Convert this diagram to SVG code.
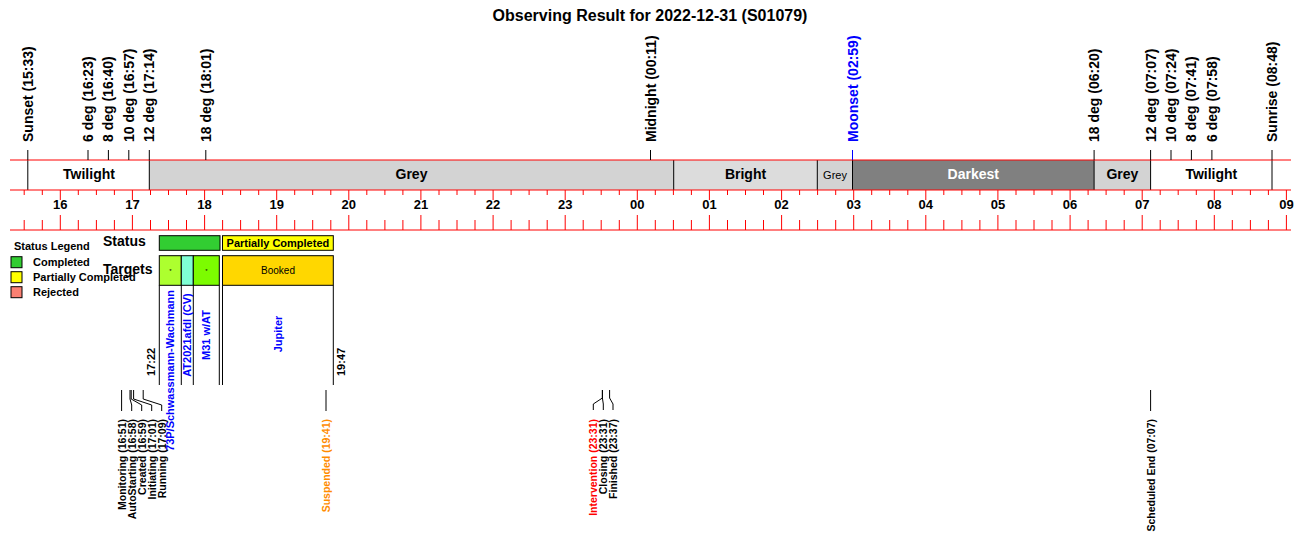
<svg xmlns="http://www.w3.org/2000/svg" width="1300" height="560" viewBox="0 0 1300 560">
<style>
text{font-family:"Liberation Sans",Arial,sans-serif;fill:#000}
.title{font-size:16px;font-weight:bold;text-anchor:middle}
.top{font-size:14px;font-weight:bold}
.band{font-size:14px;font-weight:bold;text-anchor:middle}
.hr{font-size:13px;font-weight:bold;text-anchor:middle}
.ev{font-size:10.5px;font-weight:bold;text-anchor:end}
.tg{font-size:11px;font-weight:bold;fill:#0000ff}
.tm{font-size:11px;font-weight:bold}
.lg{font-size:11px;font-weight:bold}
.rowlbl{font-size:14px;font-weight:bold}
.red{stroke:#ff0000;stroke-width:1;fill:none}
.blk{stroke:#000;stroke-width:1;fill:none}
.box{stroke:#000;stroke-width:1}
</style>
<rect width="1300" height="560" fill="#fff"/>
<text class="title" x="650" y="21">Observing Result for 2022-12-31 (S01079)</text>

<g id="bands">
<rect x="149.3" y="160" width="524.4" height="30" fill="#d3d3d3"/>
<rect x="673.7" y="160" width="143.6" height="30" fill="#dcdcdc"/>
<rect x="817.3" y="160" width="35.2" height="30" fill="#d3d3d3"/>
<rect x="852.5" y="160" width="241.6" height="30" fill="#808080"/>
<rect x="1094.1" y="160" width="56.5" height="30" fill="#d3d3d3"/>
<path class="blk" d="M27.8 160V190M149.3 160V190M673.7 160V190M817.3 160V190M852.5 160V190M1094.1 160V190M1150.6 160V190M1272 160V190"/>
<text class="band" x="89" y="179">Twilight</text>
<text class="band" x="411.5" y="179">Grey</text>
<text class="band" x="745.5" y="179">Bright</text>
<text x="835" y="179" style="font-size:11px;text-anchor:middle">Grey</text>
<text class="band" x="973.3" y="179" style="fill:#fff">Darkest</text>
<text class="band" x="1122.4" y="179">Grey</text>
<text class="band" x="1211.3" y="179">Twilight</text>
</g>

<g id="axis">
<path class="red" d="M10 160H1291M10 190H1291M10 230H1291"/>
<path class="red" d="M24.2 190V195M42.3 190V195M60.3 190V200M78.3 190V195M96.4 190V195M114.4 190V195M132.4 190V200M150.5 190V195M168.5 190V195M186.5 190V195M204.6 190V200M222.6 190V195M240.6 190V195M258.7 190V195M276.7 190V200M294.7 190V195M312.7 190V195M330.8 190V195M348.8 190V200M366.8 190V195M384.9 190V195M402.9 190V195M420.9 190V200M439 190V195M457 190V195M475 190V195M493.1 190V200M511.1 190V195M529.1 190V195M547.2 190V195M565.2 190V200M583.2 190V195M601.2 190V195M619.3 190V195M637.3 190V200M655.3 190V195M673.4 190V195M691.4 190V195M709.4 190V200M727.5 190V195M745.5 190V195M763.5 190V195M781.6 190V200M799.6 190V195M817.6 190V195M835.7 190V195M853.7 190V200M871.7 190V195M889.7 190V195M907.8 190V195M925.8 190V200M943.8 190V195M961.9 190V195M979.9 190V195M997.9 190V200M1016 190V195M1034 190V195M1052 190V195M1070.1 190V200M1088.1 190V195M1106.1 190V195M1124.2 190V195M1142.2 190V200M1160.2 190V195M1178.2 190V195M1196.3 190V195M1214.3 190V200M1232.3 190V195M1250.4 190V195M1268.4 190V195M1286.4 190V200"/>
<path class="red" d="M24.2 220V230M42.3 220V230M60.3 215V230M78.3 220V230M96.4 220V230M114.4 220V230M132.4 215V230M150.5 220V230M168.5 220V230M186.5 220V230M204.6 215V230M222.6 220V230M240.6 220V230M258.7 220V230M276.7 215V230M294.7 220V230M312.7 220V230M330.8 220V230M348.8 215V230M366.8 220V230M384.9 220V230M402.9 220V230M420.9 215V230M439 220V230M457 220V230M475 220V230M493.1 215V230M511.1 220V230M529.1 220V230M547.2 220V230M565.2 215V230M583.2 220V230M601.2 220V230M619.3 220V230M637.3 215V230M655.3 220V230M673.4 220V230M691.4 220V230M709.4 215V230M727.5 220V230M745.5 220V230M763.5 220V230M781.6 215V230M799.6 220V230M817.6 220V230M835.7 220V230M853.7 215V230M871.7 220V230M889.7 220V230M907.8 220V230M925.8 215V230M943.8 220V230M961.9 220V230M979.9 220V230M997.9 215V230M1016 220V230M1034 220V230M1052 220V230M1070.1 215V230M1088.1 220V230M1106.1 220V230M1124.2 220V230M1142.2 215V230M1160.2 220V230M1178.2 220V230M1196.3 220V230M1214.3 215V230M1232.3 220V230M1250.4 220V230M1268.4 220V230M1286.4 215V230"/>
<text class="hr" x="60.3" y="209">16</text>
<text class="hr" x="132.4" y="209">17</text>
<text class="hr" x="204.6" y="209">18</text>
<text class="hr" x="276.7" y="209">19</text>
<text class="hr" x="348.8" y="209">20</text>
<text class="hr" x="420.9" y="209">21</text>
<text class="hr" x="493.1" y="209">22</text>
<text class="hr" x="565.2" y="209">23</text>
<text class="hr" x="637.3" y="209">00</text>
<text class="hr" x="709.4" y="209">01</text>
<text class="hr" x="781.6" y="209">02</text>
<text class="hr" x="853.7" y="209">03</text>
<text class="hr" x="925.8" y="209">04</text>
<text class="hr" x="997.9" y="209">05</text>
<text class="hr" x="1070.1" y="209">06</text>
<text class="hr" x="1142.2" y="209">07</text>
<text class="hr" x="1214.3" y="209">08</text>
<text class="hr" x="1286.4" y="209">09</text>
</g>

<g id="sun-events">
<path class="blk" d="M27.8 150V160M88 150V160M108.4 150V160M128.8 150V160M149.3 150V160M205.8 150V160M650.5 150V160M1094.1 150V160M1150.6 150V160M1171 150V160M1191.4 150V160M1211.9 150V160M1272 150V160"/>
<path d="M852.5 150V160" stroke="#0000ff" stroke-width="1"/>
<text class="top" transform="translate(32.8,142) rotate(-90)">Sunset (15:33)</text>
<text class="top" transform="translate(93,142) rotate(-90)">6 deg (16:23)</text>
<text class="top" transform="translate(113.4,142) rotate(-90)">8 deg (16:40)</text>
<text class="top" transform="translate(133.8,142) rotate(-90)">10 deg (16:57)</text>
<text class="top" transform="translate(154.3,142) rotate(-90)">12 deg (17:14)</text>
<text class="top" transform="translate(210.8,142) rotate(-90)">18 deg (18:01)</text>
<text class="top" transform="translate(655.5,142) rotate(-90)">Midnight (00:11)</text>
<text class="top" transform="translate(857.5,142) rotate(-90)" style="fill:#0000ff">Moonset (02:59)</text>
<text class="top" transform="translate(1099.1,142) rotate(-90)">18 deg (06:20)</text>
<text class="top" transform="translate(1155.6,142) rotate(-90)">12 deg (07:07)</text>
<text class="top" transform="translate(1176,142) rotate(-90)">10 deg (07:24)</text>
<text class="top" transform="translate(1196.4,142) rotate(-90)">8 deg (07:41)</text>
<text class="top" transform="translate(1216.9,142) rotate(-90)">6 deg (07:58)</text>
<text class="top" transform="translate(1277,142) rotate(-90)">Sunrise (08:48)</text>
</g>

<g id="legend">
<text class="lg" x="14" y="250">Status Legend</text>
<rect class="box" x="11" y="256.7" width="11" height="11" fill="#32cd32"/>
<rect class="box" x="11" y="271.7" width="11" height="11" fill="#ffff00"/>
<rect class="box" x="11" y="286.7" width="11" height="11" fill="#fa8072"/>
<text class="lg" x="33" y="266">Completed</text>
<text class="lg" x="33" y="281">Partially Completed</text>
<text class="lg" x="33" y="296">Rejected</text>
</g>

<g id="status-row">
<text class="rowlbl" x="103" y="246">Status</text>
<rect class="box" x="159.3" y="235.7" width="60.7" height="14.6" fill="#32cd32"/>
<rect class="box" x="222.5" y="235.7" width="110.8" height="14.6" fill="#ffff00"/>
<text class="tm" x="277.9" y="247" style="text-anchor:middle">Partially Completed</text>
</g>

<g id="targets-row">
<text class="rowlbl" x="103" y="274">Targets</text>
<rect class="box" x="159.3" y="255.7" width="22" height="29.6" fill="#adff2f"/>
<rect class="box" x="181.3" y="255.7" width="12" height="29.6" fill="#7fffd4"/>
<rect class="box" x="193.3" y="255.7" width="26" height="29.6" fill="#7cfc00"/>
<rect class="box" x="222.5" y="255.7" width="110.8" height="29.6" fill="#ffd700"/>
<text x="170.3" y="273" style="font-size:6px;text-anchor:middle">*</text>
<text x="206.3" y="273" style="font-size:6px;text-anchor:middle">*</text>
<text x="278" y="274" style="font-size:10px;text-anchor:middle">Booked</text>
<path class="blk" d="M159.3 285.3V385M181.3 285.3V385M193.3 285.3V385M219.3 285.3V385M222.5 285.3V385M333.3 285.3V385"/>
<text class="tg" transform="translate(174.3,290) rotate(-90)" style="text-anchor:end">73P/Schwassmann-Wachmann</text>
<text class="tg" transform="translate(191.3,335) rotate(-90)" style="text-anchor:middle">AT2021afdl (CV)</text>
<text class="tg" transform="translate(210.3,335) rotate(-90)" style="text-anchor:middle">M31 w/AT</text>
<text class="tg" transform="translate(282,334) rotate(-90)" style="text-anchor:middle">Jupiter</text>
<text class="tm" transform="translate(155,376) rotate(-90)">17:22</text>
<text class="tm" transform="translate(345,376) rotate(-90)">19:47</text>
</g>

<g id="connectors">
<path class="blk" d="M121.6 390V411"/>
<path class="blk" d="M130 390V399L131.7 405V411"/>
<path class="blk" d="M131.2 390V399L141.7 405V411"/>
<path class="blk" d="M133.6 390V399L151.7 405V411"/>
<path class="blk" d="M143.2 390V399L161.7 405V411"/>
<path class="blk" d="M326 390V411"/>
<path class="blk" d="M602.4 390V398L593.3 404V410"/>
<path class="blk" d="M602.4 390V398L603.3 404V410"/>
<path class="blk" d="M609.6 390V398L613 404V410"/>
<path class="blk" d="M1150.6 390V411"/>
</g>

<g id="status-events">
<text class="ev" transform="translate(125.5,419) rotate(-90)">Monitoring (16:51)</text>
<text class="ev" transform="translate(135.5,419) rotate(-90)">AutoStarting (16:58)</text>
<text class="ev" transform="translate(145.5,419) rotate(-90)">Created (16:59)</text>
<text class="ev" transform="translate(155.5,419) rotate(-90)">Initiating (17:01)</text>
<text class="ev" transform="translate(165.5,419) rotate(-90)">Running (17:09)</text>
<text class="ev" transform="translate(329.8,419) rotate(-90)" style="fill:#ff8c00">Suspended (19:41)</text>
<text class="ev" transform="translate(597.1,419) rotate(-90)" style="fill:#ff0000">Intervention (23:31)</text>
<text class="ev" transform="translate(607.1,419) rotate(-90)">Closing (23:31)</text>
<text class="ev" transform="translate(616.8,419) rotate(-90)">Finished (23:37)</text>
<text class="ev" transform="translate(1154.8,419) rotate(-90)">Scheduled End (07:07)</text>
</g>
</svg>
